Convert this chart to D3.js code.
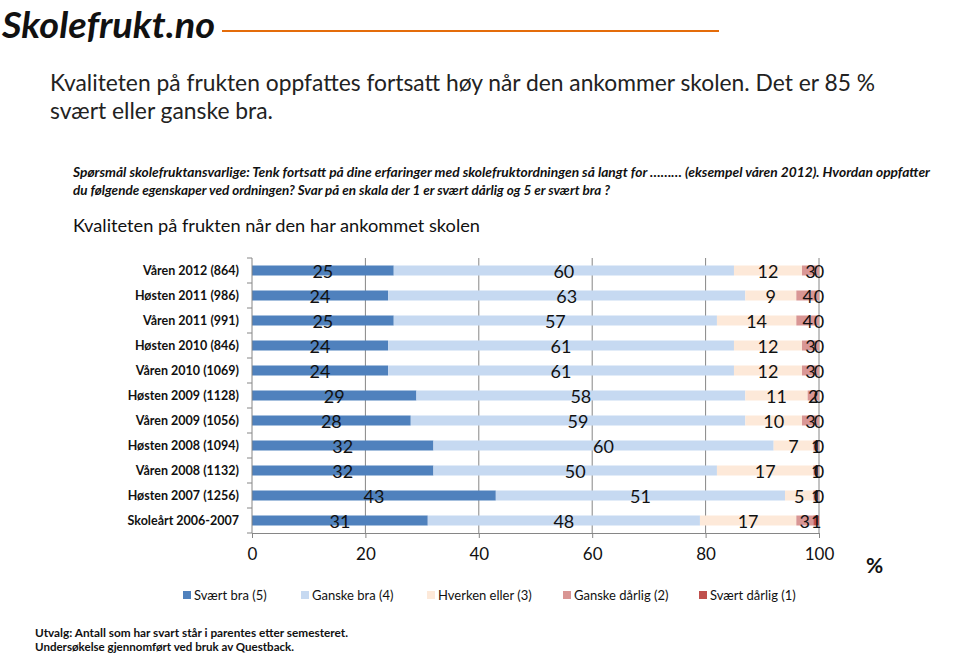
<!DOCTYPE html>
<html>
<head>
<meta charset="utf-8">
<script src="https://cdn.jsdelivr.net/npm/d3@7/dist/d3.min.js"></script>
<style>
  html, body { margin: 0; padding: 0; background: #fff; }
  svg { display: block; font-family: Lato, "Open Sans", sans-serif; }
</style>
</head>
<body>
<svg id="chart" width="960" height="657"></svg>
<script>
const categories = [
  "Våren 2012 (864)", "Høsten 2011 (986)", "Våren 2011 (991)", "Høsten 2010 (846)",
  "Våren 2010 (1069)", "Høsten 2009 (1128)", "Våren 2009 (1056)", "Høsten 2008 (1094)",
  "Våren 2008 (1132)", "Høsten 2007 (1256)", "Skoleårt 2006-2007"
];
const svaertBra    = [25, 24, 25, 24, 24, 29, 28, 32, 32, 43, 31];
const ganskeBra    = [60, 63, 57, 61, 61, 58, 59, 60, 50, 51, 48];
const hverken      = [12, 9, 14, 12, 12, 11, 10, 7, 17, 5, 17];
const ganskeDarlig = [3, 4, 4, 3, 3, 2, 3, 1, 1, 1, 3];
const svaertDarlig = [0, 0, 0, 0, 0, 0, 0, 0, 0, 0, 1];
const seriesNames  = ["Svært bra (5)", "Ganske bra (4)", "Hverken eller (3)", "Ganske dårlig (2)", "Svært dårlig (1)"];
const seriesColors = ["#4f81bd", "#c6d9f1", "#fde9d9", "#d99694", "#c0504d"];
const xTicks = [0, 20, 40, 60, 80, 100];

const svg = d3.select("#chart");

// Logo
svg.append("text").attr("x", 2).attr("y", 38)
  .attr("font-size", 37).attr("font-weight", "bold").attr("font-style", "italic")
  .attr("textLength", 213).attr("lengthAdjust", "spacingAndGlyphs")
  .attr("fill", "#111").text("Skolefrukt.no");
svg.append("line").attr("x1", 222).attr("x2", 719).attr("y1", 31).attr("y2", 31)
  .attr("stroke", "#e46c0a").attr("stroke-width", 2);

// Headline
svg.append("text").attr("x", 50).attr("y", 91).attr("font-size", 23).attr("fill", "#222")
  .attr("textLength", 825).attr("lengthAdjust", "spacingAndGlyphs")
  .text("Kvaliteten på frukten oppfattes fortsatt høy når den ankommer skolen. Det er 85 %");
svg.append("text").attr("x", 50).attr("y", 119).attr("font-size", 23).attr("fill", "#222")
  .attr("textLength", 223).attr("lengthAdjust", "spacingAndGlyphs")
  .text("svært eller ganske bra.");

// Question
svg.append("text").attr("x", 73).attr("y", 177).attr("font-size", 13)
  .attr("font-weight", "bold").attr("font-style", "italic").attr("fill", "#111")
  .attr("textLength", 857).attr("lengthAdjust", "spacingAndGlyphs")
  .text("Spørsmål  skolefruktansvarlige:  Tenk fortsatt på dine erfaringer med skolefruktordningen så langt for ……… (eksempel våren 2012).  Hvordan oppfatter");
svg.append("text").attr("x", 73).attr("y", 195).attr("font-size", 13)
  .attr("font-weight", "bold").attr("font-style", "italic").attr("fill", "#111")
  .attr("textLength", 537).attr("lengthAdjust", "spacingAndGlyphs")
  .text("du følgende egenskaper ved ordningen? Svar på en skala der 1 er svært dårlig og 5 er svært bra ?");

// Chart title
svg.append("text").attr("x", 73).attr("y", 232).attr("font-size", 18).attr("fill", "#111")
  .attr("textLength", 407).attr("lengthAdjust", "spacingAndGlyphs")
  .text("Kvaliteten på frukten når den har ankommet skolen");

// Scales
const x = d3.scaleLinear().domain([0, 100]).range([252, 819]);
const y = d3.scaleBand().domain(categories).range([258, 533]).paddingInner(0.6).paddingOuter(0.3);

// Gridlines
svg.append("g").selectAll("line").data(xTicks.filter(d => d > 0)).join("line")
  .attr("x1", d => x(d)).attr("x2", d => x(d)).attr("y1", 258).attr("y2", 533)
  .attr("stroke", "#868686").attr("stroke-width", 1);

// Stacked data
const series = [svaertBra, ganskeBra, hverken, ganskeDarlig, svaertDarlig];
const segs = [];
categories.forEach((c, i) => {
  let acc = 0;
  series.forEach((s, k) => {
    segs.push({cat: c, k, v: s[i], x0: acc, x1: acc + s[i]});
    acc += s[i];
  });
});

svg.append("g").selectAll("rect").data(segs).join("rect")
  .attr("x", d => x(d.x0)).attr("width", d => x(d.x1) - x(d.x0))
  .attr("y", d => y(d.cat)).attr("height", y.bandwidth())
  .attr("fill", d => seriesColors[d.k]);

// Axes
const xAxis = svg.append("g").attr("transform", "translate(0,533)")
  .call(d3.axisBottom(x).tickValues(xTicks).tickSize(5).tickPadding(10));
xAxis.select(".domain").attr("stroke", "#868686");
xAxis.selectAll(".tick line").attr("stroke", "#868686");
xAxis.selectAll(".tick text").attr("font-size", 17).attr("fill", "#111")
  .attr("font-family", "Lato, sans-serif");

svg.append("line").attr("x1", 252).attr("x2", 252).attr("y1", 258).attr("y2", 533)
  .attr("stroke", "#868686");
const bounds = d3.range(categories.length + 1).map(i => 258 + i * y.step());
svg.append("g").selectAll("line").data(bounds).join("line")
  .attr("x1", 247).attr("x2", 252).attr("y1", d => d).attr("y2", d => d)
  .attr("stroke", "#868686");

svg.append("g").selectAll("text").data(categories).join("text")
  .attr("x", 239).attr("y", d => y(d) + y.bandwidth() / 2)
  .attr("dy", "0.35em").attr("text-anchor", "end")
  .attr("font-size", 12.5).attr("font-weight", "bold").attr("fill", "#111")
  .text(d => d);

// Value labels
svg.append("g").selectAll("text").data(segs).join("text")
  .attr("x", d => x((d.x0 + d.x1) / 2)).attr("y", d => y(d.cat) + y.bandwidth() / 2 + 1)
  .attr("dy", "0.35em").attr("text-anchor", "middle")
  .attr("font-size", 18).attr("fill", "#111")
  .text(d => d.v);

// % sign
svg.append("text").attr("x", 866).attr("y", 573).attr("font-size", 21)
  .attr("font-weight", "bold").attr("fill", "#111").text("%");

// Legend
const legendX = [183, 301, 427, 563, 699];
const lg = svg.append("g").selectAll("g").data(seriesNames).join("g")
  .attr("transform", (d, i) => `translate(${legendX[i]},595)`);
lg.append("rect").attr("x", 0).attr("y", -4).attr("width", 8).attr("height", 8)
  .attr("fill", (d, i) => seriesColors[i]);
lg.append("text").attr("x", 11).attr("y", 0).attr("dy", "0.35em")
  .attr("font-size", 13).attr("fill", "#111").text(d => d);

// Footer
svg.append("text").attr("x", 35).attr("y", 637).attr("font-size", 11.5)
  .attr("font-weight", "bold").attr("fill", "#111")
  .attr("textLength", 313).attr("lengthAdjust", "spacingAndGlyphs")
  .text("Utvalg:  Antall som har svart står i parentes etter semesteret.");
svg.append("text").attr("x", 35).attr("y", 651).attr("font-size", 11.5)
  .attr("font-weight", "bold").attr("fill", "#111")
  .attr("textLength", 259).attr("lengthAdjust", "spacingAndGlyphs")
  .text("Undersøkelse gjennomført ved bruk av Questback.");
</script>
</body>
</html>
